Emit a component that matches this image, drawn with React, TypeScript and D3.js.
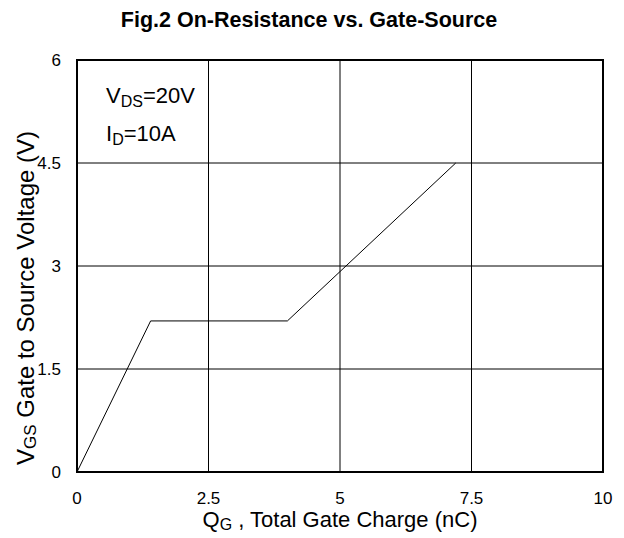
import React from 'react';
import * as d3 from 'd3';

// gate charge curve
const qg = [0, 1.4, 4.0, 7.2];
const vgs = [0, 2.2, 2.2, 4.5];

const xTicks = [0, 2.5, 5, 7.5, 10];
const yTicks = [0, 1.5, 3, 4.5, 6];

const width = 624;
const height = 538;
const margin = { top: 60, right: 21, bottom: 66, left: 77 };
const font = "'Liberation Sans', Arial, sans-serif";

const App: React.FC = () => {
  const x = d3.scaleLinear().domain([0, 10]).range([margin.left, width - margin.right]);
  const y = d3.scaleLinear().domain([0, 6]).range([height - margin.bottom, margin.top]);

  const pts = qg.map((q, i) => [q, vgs[i]] as [number, number]);
  const line = d3.line<[number, number]>()
    .x(d => x(d[0]))
    .y(d => y(d[1]));

  const x0 = x(0), x1 = x(10), y0 = y(0), y1 = y(6);

  return (
    <svg width={width} height={height} style={{ position: 'absolute', left: 0, top: 0, background: '#fff' }} fontFamily={font}>
      <text x={309} y={27} textAnchor="middle" fontSize={21.5} fontWeight="bold">Fig.2 On-Resistance vs. Gate-Source</text>

      {/* grid */}
      {xTicks.slice(1, -1).map(t => (
        <line key={'gx' + t} x1={x(t)} x2={x(t)} y1={y0} y2={y1} stroke="#000" strokeWidth={1} />
      ))}
      {yTicks.slice(1, -1).map(t => (
        <line key={'gy' + t} x1={x0} x2={x1} y1={y(t)} y2={y(t)} stroke="#000" strokeWidth={1} />
      ))}
      <rect x={x0} y={y1} width={x1 - x0} height={y0 - y1} fill="none" stroke="#000" strokeWidth={2} />

      <path d={line(pts) || ''} fill="none" stroke="#000" strokeWidth={1} />

      {/* tick labels */}
      {xTicks.map(t => (
        <text key={'tx' + t} x={x(t)} y={y0 + 32} textAnchor="middle" fontSize={17}>{t}</text>
      ))}
      {yTicks.map(t => (
        <text key={'ty' + t} x={x0 - 16} y={y(t) + 6} textAnchor="end" fontSize={17}>{t}</text>
      ))}

      {/* axis titles */}
      <text x={(x0 + x1) / 2} y={y0 + 55} textAnchor="middle" fontSize={22}>
        Q<tspan fontSize={16} dy={3}>G</tspan><tspan dy={-3}> , Total Gate Charge (nC)</tspan>
      </text>
      <text transform={`translate(34,298) rotate(-90)`} textAnchor="middle" fontSize={24}>
        V<tspan fontSize={17} dy={2}>GS</tspan><tspan dy={-2}>  Gate to Source Voltage (V)</tspan>
      </text>

      {/* conditions */}
      <text x={x0 + 29} y={103} fontSize={22}>
        V<tspan fontSize={16} dy={4}>DS</tspan><tspan dy={-4}>=20V</tspan>
      </text>
      <text x={x0 + 29} y={141} fontSize={22}>
        I<tspan fontSize={16} dy={4}>D</tspan><tspan dy={-4}>=10A</tspan>
      </text>
    </svg>
  );
};

export default App;
